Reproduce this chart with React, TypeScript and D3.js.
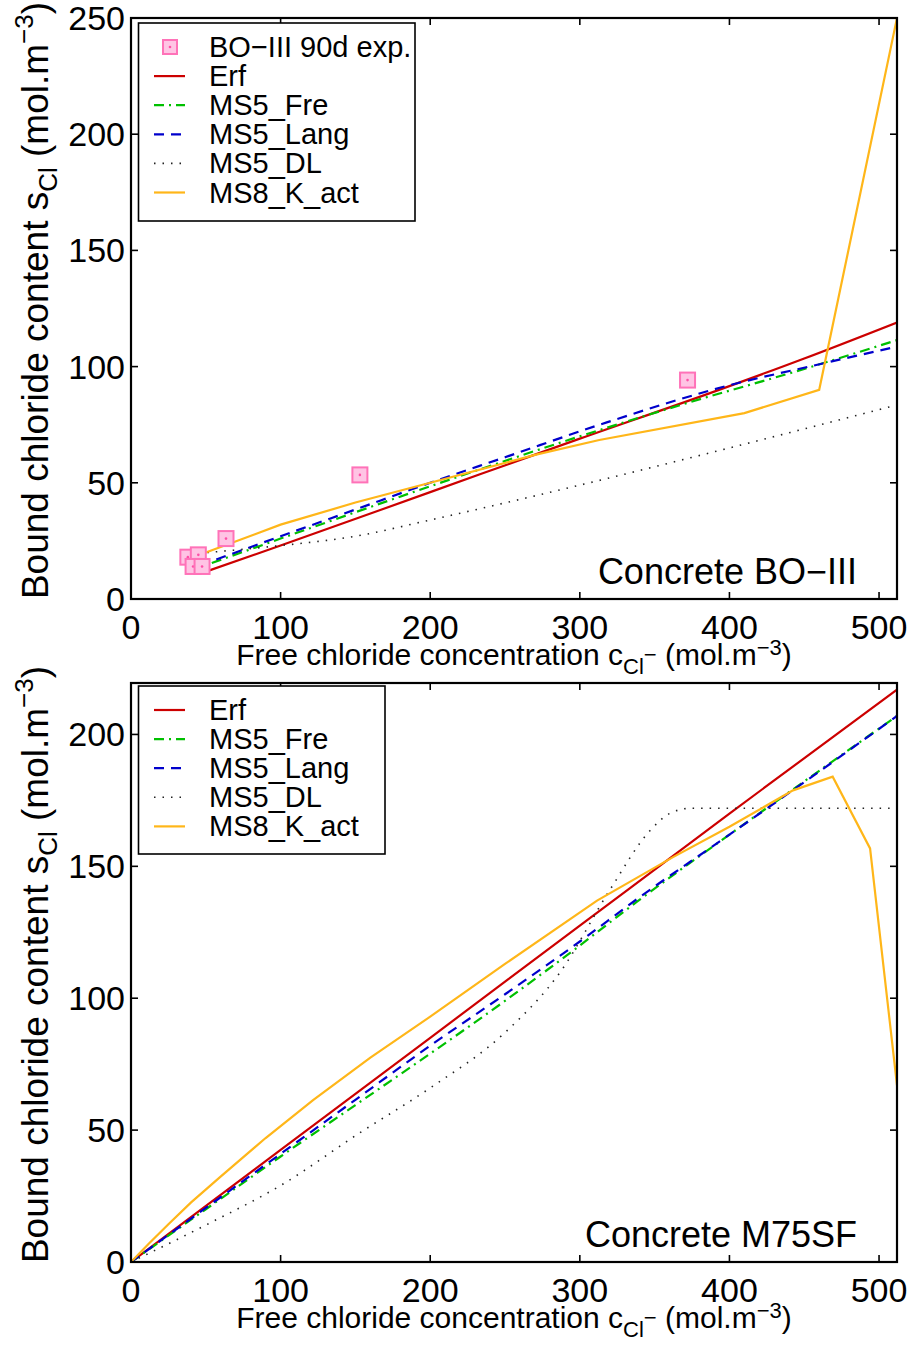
import React from "react";
import * as d3 from "d3";

// ---------- data ----------
const xTicks = [0, 100, 200, 300, 400, 500];
const topYTicks = [0, 50, 100, 150, 200, 250];
const botYTicks = [0, 50, 100, 150, 200];

// experimental points, BO-III 90d exposure
const expX = [38, 45, 41.5, 47.5, 63.5, 153, 372];
const expY = [18, 19, 14, 14, 26, 53.4, 94.2];

// Concrete BO-III models
const topErfX = [51, 100, 200, 300, 387, 450, 512];
const topErfY = [12, 23, 46, 69, 88.6, 103.5, 119];
const topFreX = [54, 100, 200, 300, 370, 450, 512];
const topFreY = [15.5, 26, 48.5, 70, 84, 99, 111.4];
const topLangX = [57, 100, 150, 200, 250, 318, 400, 458, 512];
const topLangY = [17, 27, 38.5, 50, 61, 76, 92, 100.7, 108.6];
const topDLX = [51, 100, 150, 200, 300, 400, 512];
const topDLY = [20, 23, 27, 34, 49, 65, 83.5];
const topKX = [50, 100, 150, 200, 270, 313, 410, 460, 512];
const topKY = [20, 32, 41.5, 50, 62, 68.4, 80, 90, 250];

// Concrete M75SF models
const botErfX = [0, 100, 200, 300, 400, 512];
const botErfY = [0, 42.5, 85, 127.5, 170, 217];
const botFreX = [0, 50, 100, 150, 200, 250, 300, 338, 400, 447, 512];
const botFreY = [0, 20, 40, 59.5, 79, 99, 120, 136.5, 162, 181, 207];
const botLangX = [0, 50, 100, 150, 200, 250, 300, 338, 400, 447, 512];
const botLangY = [0, 20.5, 41, 61.5, 82, 101.5, 121.5, 137.5, 162, 180.7, 207];
const botDLX = [0, 50, 100, 153, 200, 250, 287, 320, 347, 360, 374, 512];
const botDLY = [0, 14, 29, 49, 66, 87, 110, 141, 163.6, 170, 172, 172];
const botKX = [0, 12, 25, 40, 59.5, 90, 121.7, 160, 200, 250, 311.5, 362, 400, 442.5, 469, 494, 512];
const botKY = [0, 7, 14.3, 22.5, 32.2, 47, 61.4, 77.5, 93, 113, 137, 153.4, 165, 178.8, 184, 156.8, 67];

const seriesNames = ["Erf", "MS5_Fre", "MS5_Lang", "MS5_DL", "MS8_K_act"];
const expName = "BO\u2212III 90d exp.";

// ---------- styles ----------
const FONT = "'Liberation Sans', Arial, Helvetica, sans-serif";
const styles: Record<string, { color: string; dash?: string; width: number; smooth: boolean }> = {
  Erf: { color: "#cc0000", width: 2.2, smooth: true },
  MS5_Fre: { color: "#00c000", dash: "10,5,2,5", width: 2.2, smooth: true },
  MS5_Lang: { color: "#0000cc", dash: "10,7", width: 2.2, smooth: true },
  MS5_DL: { color: "#222222", dash: "1.5,7", width: 1.6, smooth: true },
  MS8_K_act: { color: "#ffb619", width: 2.2, smooth: false },
};

const X0 = 131;
const X1 = 897;
const XMAX = 512;

type Series = { name: string; xs: number[]; ys: number[] };

function Panel(props: {
  id: string;
  top: number;
  bottom: number;
  yMax: number;
  yTicks: number[];
  series: Series[];
  showExp: boolean;
  legendTop: number;
  legendBottom: number;
  legendRight: number;
  note: string;
}) {
  const { id, top, bottom, yMax, yTicks, series, showExp, legendTop, legendBottom, legendRight, note } = props;
  const x = d3.scaleLinear().domain([0, XMAX]).range([X0, X1]);
  const y = d3.scaleLinear().domain([0, yMax]).range([bottom, top]);
  const tickLen = 7;

  const legendItems: string[] = (showExp ? [expName] : []).concat(seriesNames);
  const rowH = 29.1;
  const firstRow = legendTop + 24;

  const yLabelCenter = (top + bottom) / 2 - 8;

  return (
    <g>
      <defs>
        <clipPath id={`clip-${id}`}>
          <rect x={X0} y={top} width={X1 - X0} height={bottom - top} />
        </clipPath>
      </defs>
      {/* curves */}
      <g clipPath={`url(#clip-${id})`}>
        {series.map((s) => {
          const st = styles[s.name];
          const pts: [number, number][] = s.xs.map((v, i) => [v, s.ys[i]]);
          const line = d3
            .line<[number, number]>()
            .x((d) => x(d[0]))
            .y((d) => y(d[1]))
            .curve(st.smooth ? d3.curveMonotoneX : d3.curveLinear);
          return (
            <path
              key={s.name}
              d={line(pts) || ""}
              fill="none"
              stroke={st.color}
              strokeWidth={st.width}
              strokeDasharray={st.dash}
            />
          );
        })}
        {showExp &&
          expX.map((v, i) => (
            <g key={i}>
              <rect
                x={x(v) - 7.5}
                y={y(expY[i]) - 7.5}
                width={15}
                height={15}
                fill="#ffc4e4"
                stroke="#ff72b8"
                strokeWidth={2}
              />
              <circle cx={x(v)} cy={y(expY[i])} r={1.3} fill="#ff4fa7" />
            </g>
          ))}
      </g>
      {/* frame */}
      <rect x={X0} y={top} width={X1 - X0} height={bottom - top} fill="none" stroke="#000" strokeWidth={2.2} />
      {xTicks.map((t) => (
        <g key={"xt" + t}>
          <line x1={x(t)} x2={x(t)} y1={bottom} y2={bottom - tickLen} stroke="#000" strokeWidth={1.6} />
          <line x1={x(t)} x2={x(t)} y1={top} y2={top + tickLen} stroke="#000" strokeWidth={1.6} />
          <text x={x(t)} y={bottom + 40} fontSize={34} textAnchor="middle" fontFamily={FONT}>
            {t}
          </text>
        </g>
      ))}
      {yTicks.map((t) => (
        <g key={"yt" + t}>
          <line x1={X0} x2={X0 + tickLen} y1={y(t)} y2={y(t)} stroke="#000" strokeWidth={1.6} />
          <line x1={X1} x2={X1 - tickLen} y1={y(t)} y2={y(t)} stroke="#000" strokeWidth={1.6} />
          <text x={125} y={y(t) + 12} fontSize={34} textAnchor="end" fontFamily={FONT}>
            {t}
          </text>
        </g>
      ))}
      {/* annotation */}
      <text x={857} y={bottom - 15} fontSize={36} textAnchor="end" fontFamily={FONT}>
        {note}
      </text>
      {/* axis labels */}
      <text x={514} y={bottom + 66} fontSize={30} textAnchor="middle" fontFamily={FONT}>
        Free chloride concentration c
        <tspan dy={9} fontSize={22}>Cl</tspan>
        <tspan dy={-12} fontSize={22}>{"\u2212"}</tspan>
        <tspan dy={3} fontSize={30}>{" (mol.m"}</tspan>
        <tspan dy={-10} fontSize={22}>{"\u22123"}</tspan>
        <tspan dy={10} fontSize={30}>)</tspan>
      </text>
      <text
        transform={`translate(48, ${yLabelCenter}) rotate(-90)`}
        fontSize={37}
        textAnchor="middle"
        fontFamily={FONT}
      >
        Bound chloride content s
        <tspan dy={9} fontSize={26}>Cl</tspan>
        <tspan dy={-9} fontSize={37}>{" (mol.m"}</tspan>
        <tspan dy={-15} fontSize={26}>{"\u22123"}</tspan>
        <tspan dy={15} fontSize={37}>)</tspan>
      </text>
      {/* legend */}
      <rect
        x={138.5}
        y={legendTop}
        width={legendRight - 138.5}
        height={legendBottom - legendTop}
        fill="#fff"
        stroke="#000"
        strokeWidth={1.6}
      />
      {legendItems.map((name, i) => {
        const cy = firstRow + i * rowH;
        const isExp = name === expName;
        const st = styles[name];
        return (
          <g key={name}>
            {isExp ? (
              <g>
                <rect x={163} y={cy - 7} width={14} height={14} fill="#ffc4e4" stroke="#ff72b8" strokeWidth={2} />
                <circle cx={170} cy={cy} r={1.3} fill="#ff4fa7" />
              </g>
            ) : (
              <line
                x1={154}
                x2={185}
                y1={cy}
                y2={cy}
                stroke={st.color}
                strokeWidth={st.width}
                strokeDasharray={st.dash}
              />
            )}
            <text x={209} y={cy + 10} fontSize={29} fontFamily={FONT}>
              {name}
            </text>
          </g>
        );
      })}
    </g>
  );
}

export default function App() {
  const topSeries: Series[] = [
    { name: "Erf", xs: topErfX, ys: topErfY },
    { name: "MS5_Fre", xs: topFreX, ys: topFreY },
    { name: "MS5_Lang", xs: topLangX, ys: topLangY },
    { name: "MS5_DL", xs: topDLX, ys: topDLY },
    { name: "MS8_K_act", xs: topKX, ys: topKY },
  ];
  const botSeries: Series[] = [
    { name: "Erf", xs: botErfX, ys: botErfY },
    { name: "MS5_Fre", xs: botFreX, ys: botFreY },
    { name: "MS5_Lang", xs: botLangX, ys: botLangY },
    { name: "MS5_DL", xs: botDLX, ys: botDLY },
    { name: "MS8_K_act", xs: botKX, ys: botKY },
  ];
  return (
    <div style={{ position: "absolute", left: 0, top: 0 }}>
      <svg width={914} height={1346} style={{ display: "block", background: "#fff" }}>
        <Panel
          id="top"
          top={18}
          bottom={599}
          yMax={250}
          yTicks={topYTicks}
          series={topSeries}
          showExp={true}
          legendTop={23}
          legendBottom={221}
          legendRight={415}
          note={"Concrete BO\u2212III"}
        />
        <Panel
          id="bot"
          top={683}
          bottom={1262}
          yMax={219.5}
          yTicks={botYTicks}
          series={botSeries}
          showExp={false}
          legendTop={686}
          legendBottom={854}
          legendRight={385}
          note="Concrete M75SF"
        />
      </svg>
    </div>
  );
}
